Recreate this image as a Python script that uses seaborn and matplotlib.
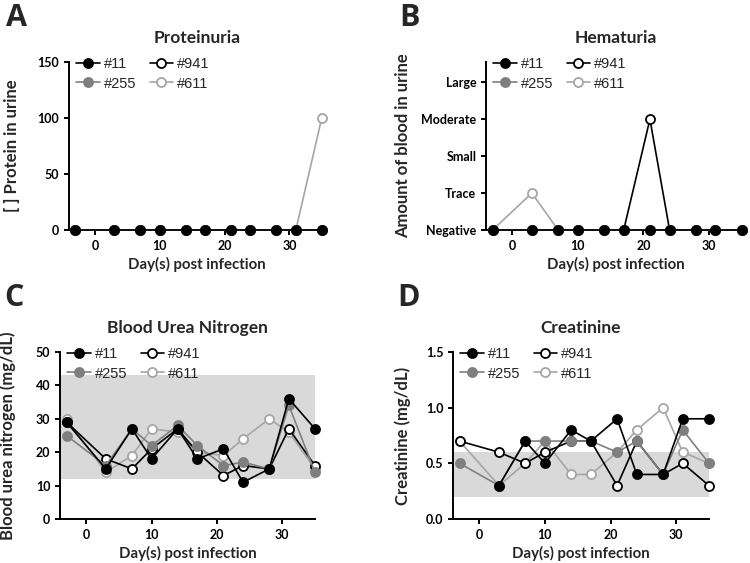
import numpy as np
import pandas as pd
import matplotlib
matplotlib.use("Agg")
import matplotlib.pyplot as plt
import seaborn as sns

# ---------------------------------------------------------------- DATA
DAYS = [-3, 3, 7, 10, 14, 17, 21, 24, 28, 31, 35]
ANIMALS = ["#11", "#255", "#941", "#611"]   # legend order (column-wise)

# A: protein in urine
PROT_11  = [0, 0, 0, 0, 0, 0, 0, 0, 0, 0, 0]
PROT_255 = [0, 0, 0, 0, 0, 0, 0, 0, 0, 0, 0]
PROT_941 = [0, 0, 0, 0, 0, 0, 0, 0, 0, 0, 0]
PROT_611 = [0, 0, 0, 0, 0, 0, 0, 0, 0, 0, 100]

# B: hematuria (0=Negative .. 4=Large)
HEMA_LEVELS = ["Negative", "Trace", "Small", "Moderate", "Large"]
HEMA_11  = [0, 0, 0, 0, 0, 0, 0, 0, 0, 0, 0]
HEMA_255 = [0, 0, 0, 0, 0, 0, 0, 0, 0, 0, 0]
HEMA_941 = [0, 0, 0, 0, 0, 0, 3, 0, 0, 0, 0]
HEMA_611 = [0, 1, 0, 0, 0, 0, 0, 0, 0, 0, 0]

# C: blood urea nitrogen (mg/dL)
BUN_11  = [29, 15, 27, 18, 27, 18, 21, 11, 15, 36, 27]
BUN_255 = [25, 16, 27, 22, 28, 22, 16, 17, 15, 34, 14]
BUN_941 = [29, 18, 15, 21, 27, 20, 13, 16, 15, 27, 16]
BUN_611 = [30, 14, 19, 27, 26, 20, 19, 24, 30, 26, 15]
BUN_RANGE = (12, 43)

# D: creatinine (mg/dL)
CREA_11  = [np.nan, 0.3, 0.7, 0.5, 0.8, 0.7, 0.9, 0.4, 0.4, 0.9, 0.9]
CREA_255 = [0.5, 0.3, 0.7, 0.7, 0.7, 0.7, 0.6, 0.7, 0.4, 0.8, 0.5]
CREA_941 = [0.7, 0.6, 0.5, 0.6, 0.7, 0.7, 0.3, 0.7, 0.4, 0.5, 0.3]
CREA_611 = [0.7, 0.3, 0.5, 0.7, 0.4, 0.4, 0.6, 0.8, 1.0, 0.6, 0.5]
CREA_RANGE = (0.2, 0.6)

# ---------------------------------------------------------------- STYLE
sns.set_style("ticks")
plt.rcParams["font.family"] = ["Lato", "DejaVu Sans"]
plt.rcParams["axes.linewidth"] = 1.4
plt.rcParams["xtick.major.width"] = 1.4
plt.rcParams["ytick.major.width"] = 1.4
plt.rcParams["xtick.major.size"] = 3.5
plt.rcParams["ytick.major.size"] = 3.5
plt.rcParams["axes.edgecolor"] = "black"
plt.rcParams["xtick.color"] = "black"
plt.rcParams["ytick.color"] = "black"

STYLE = {  # color, face, zorder (black filled on top)
    "#11":  ("#000000", "#000000", 6),
    "#255": ("#7f7f7f", "#7f7f7f", 5),
    "#941": ("#000000", "white", 4),
    "#611": ("#a6a6a6", "white", 3),
}
BAND = "#d9d9d9"

fig = plt.figure(figsize=(7.5, 5.63), dpi=100)
W, H = 750, 563
def px_axes(l, t, r, b):
    return fig.add_axes([l / W, 1 - b / H, (r - l) / W, (b - t) / H])

axA = px_axes(69, 62, 325, 230)
axB = px_axes(486, 62, 745, 230)
axC = px_axes(60, 352, 315, 519)
axD = px_axes(453, 352, 709, 519)

def draw(ax, series, title, ylabel, xlim, ylim, yticks, ylab_x):
    for name in ANIMALS:
        col, face, z = STYLE[name]
        sns.lineplot(x=DAYS, y=series[name], ax=ax, color=col, linewidth=1.2,
                     marker="o", markersize=6.5, markerfacecolor=face,
                     markeredgecolor=col, markeredgewidth=1.3,
                     errorbar=None, label=name, zorder=z, clip_on=False)
    ax.set_xlim(*xlim); ax.set_ylim(*ylim)
    ax.set_xticks([0, 10, 20, 30]); ax.set_yticks(yticks)
    ax.tick_params(labelsize=9)
    for lab in ax.get_xticklabels() + ax.get_yticklabels():
        lab.set_fontweight("bold")
    ax.set_title(title, fontsize=12.5, fontweight="bold", pad=14)
    ax.set_xlabel("Day(s) post infection", fontsize=10.8, fontweight="bold")
    ax.set_ylabel(ylabel, fontsize=12, fontweight="bold")
    ax.xaxis.set_label_coords(0.5, -0.16)
    ax.yaxis.set_label_coords(ylab_x, 0.5)
    sns.despine(ax=ax)
    h, l = ax.get_legend_handles_labels()
    ax.legend(h, l, loc="upper left", bbox_to_anchor=(0.0, 1.075), ncol=2,
              frameon=False, borderpad=0, handlelength=1.6, handletextpad=0.3,
              columnspacing=0.9, labelspacing=0.4,
              prop={"family": "Liberation Sans", "size": 10.5})

draw(axA, {"#11": PROT_11, "#255": PROT_255, "#941": PROT_941, "#611": PROT_611},
     "Proteinuria", "[ ] Protein in urine", (-4, 35.5), (0, 150), [0, 50, 100, 150], -0.19)
draw(axB, {"#11": HEMA_11, "#255": HEMA_255, "#941": HEMA_941, "#611": HEMA_611},
     "Hematuria", "Amount of blood in urine", (-4, 35.5), (0, 4.55), range(5), -0.29)
axB.set_yticklabels(HEMA_LEVELS, fontweight="bold")
draw(axC, {"#11": BUN_11, "#255": BUN_255, "#941": BUN_941, "#611": BUN_611},
     "Blood Urea Nitrogen", "Blood urea nitrogen (mg/dL)", (-4, 35), (0, 50),
     [0, 10, 20, 30, 40, 50], -0.173)
axC.axhspan(*BUN_RANGE, color=BAND, zorder=0, lw=0)
draw(axD, {"#11": CREA_11, "#255": CREA_255, "#941": CREA_941, "#611": CREA_611},
     "Creatinine", "Creatinine (mg/dL)", (-4, 35), (0, 1.5), [0.0, 0.5, 1.0, 1.5], -0.164)
axD.axhspan(*CREA_RANGE, color=BAND, zorder=0, lw=0)
axD.yaxis.set_major_formatter(matplotlib.ticker.FormatStrFormatter("%.1f"))

for x, y, s in [(6, 3, "A"), (399, 3, "B"), (4, 283, "C"), (397, 283, "D")]:
    fig.text(x / W, 1 - y / H, s, fontsize=22, fontweight="bold", va="top",
             ha="left", family=["Open Sans", "DejaVu Sans"])

fig.savefig("out.png", dpi=100)
